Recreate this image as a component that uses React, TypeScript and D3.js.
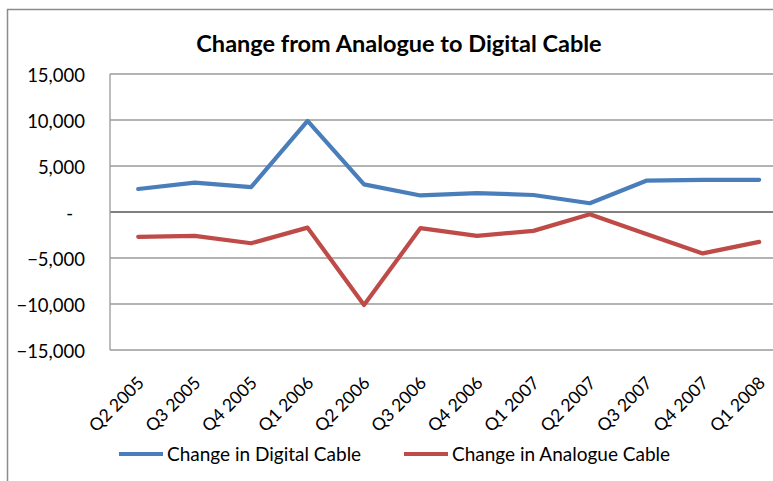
import React, { useEffect, useRef } from 'react';
import * as d3 from 'd3';

const quarters = ['Q2 2005', 'Q3 2005', 'Q4 2005', 'Q1 2006', 'Q2 2006', 'Q3 2006',
  'Q4 2006', 'Q1 2007', 'Q2 2007', 'Q3 2007', 'Q4 2007', 'Q1 2008'];
const digitalChange = [2500, 3200, 2700, 9900, 3000, 1800, 2050, 1850, 950, 3400, 3500, 3500];
const analogueChange = [-2700, -2600, -3400, -1700, -10100, -1750, -2600, -2050, -250, -2400, -4500, -3250];
const yTicks = [15000, 10000, 5000, 0, -5000, -10000, -15000];

const FONT = 'Lato, "Open Sans", sans-serif';

const App: React.FC = () => {
  const svgRef = useRef<SVGSVGElement | null>(null);

  useEffect(() => {
    if (!svgRef.current) return;
    const svg = d3.select(svgRef.current);
    svg.selectAll('*').remove();

    // chart frame, cut off at the right and bottom like the original screenshot
    svg.append('rect')
      .attr('x', 7.5).attr('y', 9.5)
      .attr('width', 800).attr('height', 500)
      .attr('fill', 'white')
      .attr('stroke', '#8c8c8c')
      .attr('stroke-width', 1.5);

    const plotLeft = 110;
    const step = 56.45;
    const x = d3.scaleBand<string>()
      .domain(quarters)
      .range([plotLeft, plotLeft + step * quarters.length]);
    const y = d3.scaleLinear().domain([-15000, 15000]).range([350, 74]);
    const cx = (q: string) => (x(q) ?? 0) + x.bandwidth() / 2;

    // Title
    svg.append('text')
      .attr('x', 399).attr('y', 52)
      .attr('text-anchor', 'middle')
      .style('font-family', FONT)
      .style('font-size', '23.5px')
      .style('font-weight', 'bold')
      .text('Change from Analogue to Digital Cable');

    // gridlines
    svg.append('g')
      .selectAll('line')
      .data(yTicks)
      .enter()
      .append('line')
      .attr('x1', plotLeft).attr('x2', 800)
      .attr('y1', d => y(d)).attr('y2', d => y(d))
      .attr('stroke', d => (d === 0 ? '#808080' : '#9a9a9a'))
      .attr('stroke-width', d => (d === 0 ? 2 : 1.3));

    // vertical axis line
    svg.append('line')
      .attr('x1', plotLeft).attr('x2', plotLeft)
      .attr('y1', y(15000)).attr('y2', y(-15000))
      .attr('stroke', '#9a9a9a').attr('stroke-width', 1.3);

    // y labels
    const fmt = d3.format(',');
    svg.append('g')
      .selectAll('text')
      .data(yTicks)
      .enter()
      .append('text')
      .attr('x', d => (d === 0 ? 73 : 85))
      .attr('y', d => y(d) + 8)
      .attr('text-anchor', 'end')
      .style('font-family', FONT)
      .style('font-size', '18.5px')
      .text(d => (d === 0 ? '-' : fmt(d)));

    // x labels, rotated
    svg.append('g')
      .selectAll('text')
      .data(quarters)
      .enter()
      .append('text')
      .attr('transform', d => `translate(${cx(d) + 7},${384}) rotate(-45)`)
      .attr('text-anchor', 'end')
      .style('font-family', FONT)
      .style('font-size', '17.5px')
      .text(d => d);

    const line = d3.line<number>()
      .x((_, i) => cx(quarters[i]))
      .y(d => y(d));

    const series = [
      { values: digitalChange, color: '#4A7EBB', name: 'Change in Digital Cable' },
      { values: analogueChange, color: '#BE4B48', name: 'Change in Analogue Cable' },
    ];

    series.forEach(s => {
      svg.append('path')
        .datum(s.values)
        .attr('fill', 'none')
        .attr('stroke', s.color)
        .attr('stroke-width', 4.2)
        .attr('stroke-linejoin', 'round')
        .attr('stroke-linecap', 'round')
        .attr('d', line);
    });

    // legend
    const legendX = [119, 404];
    series.forEach((s, i) => {
      const g = svg.append('g').attr('transform', `translate(${legendX[i]},454)`);
      g.append('line')
        .attr('x1', 0).attr('x2', 44)
        .attr('stroke', s.color).attr('stroke-width', 4.2);
      g.append('text')
        .attr('x', 48).attr('y', 7)
        .style('font-family', FONT)
        .style('font-size', '19px')
        .text(s.name);
    });
  }, []);

  return (
    <svg
      ref={svgRef}
      width={773}
      height={481}
      style={{ position: 'absolute', left: 0, top: 0, background: 'white' }}
    />
  );
};

export default App;
